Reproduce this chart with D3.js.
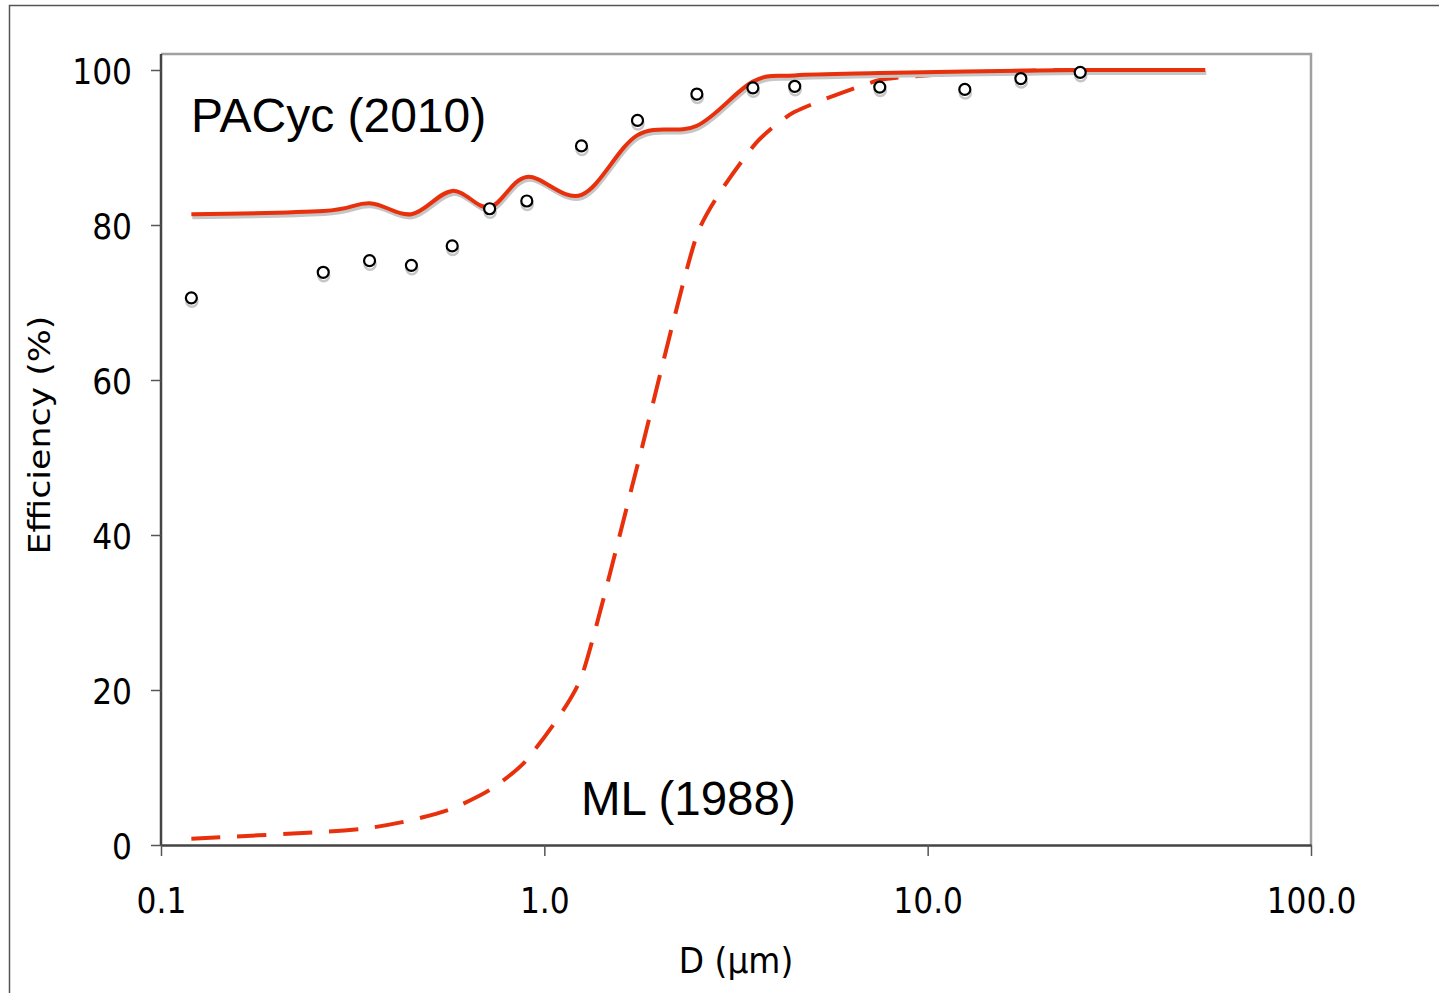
<!DOCTYPE html>
<html>
<head>
<meta charset="utf-8">
<script src="https://cdn.jsdelivr.net/npm/d3@7"></script>
<style>
  body { margin: 0; background: #fff; }
</style>
</head>
<body>
<div id="chart"></div>
<script>
// particle diameter (um) of each size bin
var sizes = [0.12, 0.265, 0.35, 0.45, 0.575, 0.72, 0.9, 1.25, 1.75, 2.5, 3.5, 4.5, 7.5, 12.5, 17.5, 25];
// measured efficiency (%) - open circles
var measured = [70.6, 73.9, 75.4, 74.8, 77.3, 82.1, 83.1, 90.2, 93.5, 96.9, 97.7, 97.9, 97.8, 97.5, 98.9, 99.7];
// PACyc (2010) model - solid line
var pacycSizes = [0.12, 0.265, 0.35, 0.45, 0.575, 0.72, 0.9, 1.25, 1.75, 2.5, 3.5, 4.5, 7.5, 12.5, 17.5, 25, 53];
var pacyc = [81.4, 81.8, 82.8, 81.4, 84.4, 82.3, 86.2, 83.9, 91.6, 92.8, 98.5, 99.3, 99.6, 99.8, 99.9, 100, 100];
// ML (1988) model - dashed line
var mlSizes = [0.12, 0.265, 0.35, 0.45, 0.575, 0.72, 0.9, 1.25, 1.75, 2.5, 3.5, 4.5, 7.5, 12.5, 17.5, 25];
var ml = [0.8, 1.7, 2.2, 3.2, 4.7, 7.1, 11.0, 21.7, 49.0, 78.7, 90.1, 94.6, 98.7, 99.6, 99.9, 100];

var xTicks = [0.1, 1, 10, 100];
var yTicks = [0, 20, 40, 60, 80, 100];

function main() {
    var W = 1439, H = 993;
    var left = 161, right = 1311, top = 54, bottom = 845;
    var red = "#e8300c", shadow = "#c6c6c6";
    var tickFont = "'DejaVu Sans', Verdana, sans-serif";

    var xScale = d3.scaleLog().domain([0.1, 100]).range([left, right]);
    var yScale = d3.scaleLinear().domain([0, 100]).range([bottom, 70]);

    var svg = d3.select("#chart").append("svg")
        .attr("width", W)
        .attr("height", H);

    svg.append("rect")
        .attr("width", W).attr("height", H)
        .attr("fill", "white");

    // outer chart frame (runs off the right and bottom)
    svg.append("rect")
        .attr("x", 9.5).attr("y", 5.5)
        .attr("width", 1500).attr("height", 1100)
        .attr("fill", "none")
        .attr("stroke", "#555")
        .attr("stroke-width", 1.5);

    // plot area frame, top and right
    svg.append("path")
        .attr("d", "M" + left + "," + top + "H" + right + "V" + bottom)
        .attr("fill", "none")
        .attr("stroke", "#a0a0a0")
        .attr("stroke-width", 2.5);

    var xAxis = svg.append("g")
        .attr("transform", "translate(0," + bottom + ")")
        .call(d3.axisBottom(xScale)
            .tickValues(xTicks)
            .tickSize(11)
            .tickSizeOuter(0)
            .tickFormat(d3.format(".1f")));

    var yAxis = svg.append("g")
        .attr("transform", "translate(" + left + ",0)")
        .call(d3.axisLeft(yScale)
            .tickValues(yTicks)
            .tickSize(10)
            .tickSizeOuter(0));
    yAxis.select(".domain").attr("d", "M0," + bottom + "V" + top);

    [xAxis, yAxis].forEach(function(ax) {
        ax.select(".domain").attr("stroke", "#444").attr("stroke-width", 2.5);
        ax.selectAll(".tick line").attr("stroke", "#555").attr("stroke-width", 1.5);
    });

    // tahoma-ish labels: dejavu squeezed horizontally
    xAxis.selectAll(".tick text")
        .attr("y", null).attr("dy", null)
        .attr("transform", "translate(0," + (913 - bottom) + ") scale(0.87,1)")
        .style("font-family", tickFont)
        .style("font-size", "36px")
        .attr("fill", "#000");

    yAxis.selectAll(".tick text")
        .attr("x", null).attr("dy", null)
        .attr("transform", "translate(-29,13) scale(0.87,1)")
        .style("font-family", tickFont)
        .style("font-size", "36px")
        .attr("fill", "#000");

    svg.append("text")
        .attr("transform", "translate(736,973) scale(0.94,1)")
        .attr("text-anchor", "middle")
        .style("font-family", tickFont)
        .style("font-size", "35px")
        .text("D (\u00b5m)");

    svg.append("text")
        .attr("transform", "translate(50,435) rotate(-90) scale(1.16,1)")
        .attr("text-anchor", "middle")
        .style("font-family", tickFont)
        .style("font-size", "30px")
        .text("Efficiency (%)");

    var line = d3.line()
        .x(function(d) { return xScale(d[0]); })
        .y(function(d) { return yScale(d[1]); })
        .curve(d3.curveCardinal);

    var pacycData = pacycSizes.map(function(s, i) { return [s, pacyc[i]]; });
    var mlData = mlSizes.map(function(s, i) { return [s, ml[i]]; });
    var pts = sizes.map(function(s, i) { return [s, measured[i]]; });

    // ML (1988) dashed, a bit stiffer so the bends show
    svg.append("path")
        .datum(mlData)
        .attr("d", line.curve(d3.curveCardinal.tension(0.45)))
        .attr("fill", "none")
        .attr("stroke", red)
        .attr("stroke-width", 4)
        .attr("stroke-dasharray", "29,17");
    line.curve(d3.curveCardinal);

    // PACyc (2010) with drop shadow
    svg.append("path")
        .datum(pacycData)
        .attr("d", line)
        .attr("transform", "translate(1,3)")
        .attr("fill", "none")
        .attr("stroke", shadow)
        .attr("stroke-width", 4);

    svg.append("path")
        .datum(pacycData)
        .attr("d", line)
        .attr("fill", "none")
        .attr("stroke", red)
        .attr("stroke-width", 4);

    // measured points
    svg.append("g")
        .selectAll("circle")
        .data(pts)
        .join("circle")
        .attr("cx", function(d) { return xScale(d[0]) + 0.5; })
        .attr("cy", function(d) { return yScale(d[1]) + 3.5; })
        .attr("r", 5.5)
        .attr("fill", "none")
        .attr("stroke", shadow)
        .attr("stroke-width", 2.5);

    svg.append("g")
        .selectAll("circle")
        .data(pts)
        .join("circle")
        .attr("cx", function(d) { return xScale(d[0]); })
        .attr("cy", function(d) { return yScale(d[1]); })
        .attr("r", 5.5)
        .attr("fill", "white")
        .attr("stroke", "#000")
        .attr("stroke-width", 2.2);

    svg.append("text")
        .attr("x", 191).attr("y", 132)
        .style("font-family", "'Liberation Sans', Arial, sans-serif")
        .style("font-size", "48px")
        .text("PACyc (2010)");

    svg.append("text")
        .attr("x", 581).attr("y", 815)
        .style("font-family", "'Liberation Sans', Arial, sans-serif")
        .style("font-size", "47.5px")
        .text("ML (1988)");
}

main();
</script>
</body>
</html>
